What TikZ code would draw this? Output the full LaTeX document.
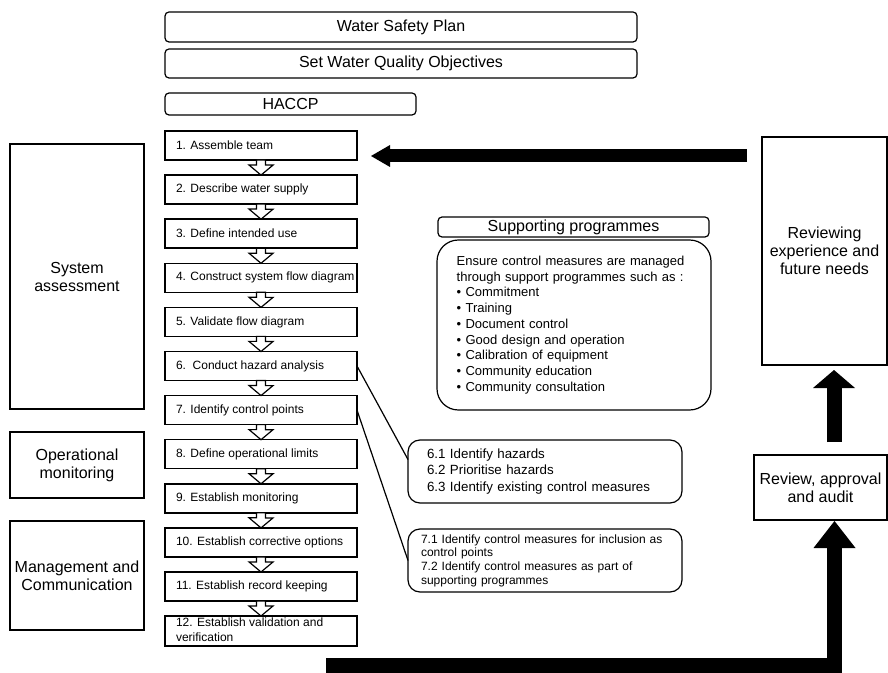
\documentclass[tikz,border=0pt]{standalone}
\usepackage{fontspec}
\setmainfont{Liberation Sans}
\usetikzlibrary{arrows.meta,calc}
\newcommand{\stx}[1]{\makebox[127.5pt][l]{#1}}
\begin{document}
\begin{tikzpicture}[x=0.75pt,y=-0.75pt,
  every node/.style={inner sep=0pt, outer sep=0pt},
  ttl/.style={draw, line width=0.9pt, rounded corners=3pt, font=\fontsize{12pt}{14pt}\selectfont},
  stepbox/.style={draw, line width=1.1pt, minimum width=144pt, minimum height=21.75pt, inner xsep=8.25pt, font=\fontsize{9pt}{10.8pt}\selectfont},
  sidebox/.style={draw, line width=0.9pt, align=center, font=\fontsize{12pt}{13.5pt}\selectfont},
  roundbox/.style={draw, line width=0.9pt, align=left, minimum width=205.5pt},
  hollow/.style={draw, fill=white, line width=0.9pt, line join=miter},
  conn/.style={line width=0.9pt},
  fatarrow/.style={line width=#1, line join=miter},
]
\useasboundingbox (0,0) rectangle (888,673);

% headers
\node[ttl, minimum width=354pt, minimum height=22.5pt] (wsp) at (401,27) {Water Safety Plan};
\node[ttl, minimum width=354pt, minimum height=21.75pt] (swqo) at (401,63.5) {Set Water Quality Objectives};
\node[ttl, minimum width=188.25pt, minimum height=16.5pt] (haccp) at (290.5,104) {HACCP};

% steps
\node[stepbox] (s1) at (261,145.5) {\stx{1. Assemble team}};
\node[stepbox] (s2) at (261,189.6) {\stx{2. Describe water supply}};
\node[stepbox] (s3) at (261,233.7) {\stx{3. Define intended use}};
\node[stepbox] (s4) at (261,277.8) {\stx{4. Construct system flow diagram}};
\node[stepbox] (s5) at (261,321.9) {\stx{5. Validate flow diagram}};
\node[stepbox] (s6) at (261,366.0) {\stx{6.\ \ Conduct hazard analysis}};
\node[stepbox] (s7) at (261,410.1) {\stx{7. Identify control points}};
\node[stepbox] (s8) at (261,454.2) {\stx{8. Define operational limits}};
\node[stepbox] (s9) at (261,498.3) {\stx{9. Establish monitoring}};
\node[stepbox] (s10) at (261,542.4) {\stx{10. Establish corrective options}};
\node[stepbox] (s11) at (261,586.5) {\stx{11. Establish record keeping}};
\node[stepbox, minimum height=22.5pt] (s12) at (261,631) {\stx{\begin{tabular}{@{}l@{}}12. Establish validation and\\verification\end{tabular}}};

\foreach \a/\b in {s1/s2,s2/s3,s3/s4,s4/s5,s5/s6,s6/s7,s7/s8,s8/s9,s9/s10,s10/s11,s11/s12}{
  \filldraw[hollow] ($(\a.south)+(-4.5,0)$) -- ++(0,5) -- ++(-7.5,0) -- (\b.north) -- ++(12,-10) -- ++(-7.5,0) -- ($(\a.south)+(4.5,0)$) -- cycle;
}

% left column
\node[sidebox, minimum width=100.5pt, minimum height=198.75pt] (sa) at (77,276.5) {System\\assessment};
\node[sidebox, minimum width=100.5pt, minimum height=49.5pt] (om) at (77,465) {Operational\\monitoring};
\node[sidebox, minimum width=100.5pt, minimum height=81.75pt] (mc) at (77,575.5) {Management and\\Communication};

% supporting programmes
\node[ttl, minimum width=203.25pt, minimum height=15pt] (sph) at (573.5,227) {Supporting programmes};
\node[roundbox, rounded corners=16pt, minimum height=127.5pt, text width=176pt, font=\fontsize{9.75pt}{11.8pt}\selectfont] (spb) at (574,325)
 {Ensure control measures are managed\\through support programmes such as :\\• Commitment\\• Training\\• Document control\\• Good design and operation\\• Calibration of equipment\\• Community education\\• Community consultation};

% sub-step boxes
\node[roundbox, rounded corners=9pt, minimum height=47.25pt, text width=177pt, font=\fontsize{10pt}{12.4pt}\selectfont] (b6) at (545,471.5)
 {6.1 Identify hazards\\6.2 Prioritise hazards\\6.3 Identify existing control measures};
\node[roundbox, rounded corners=9pt, minimum height=47.25pt, text width=186pt, font=\fontsize{9pt}{10.3pt}\selectfont] (b7) at (545,560.5)
 {7.1 Identify control measures for inclusion as\\control points\\7.2 Identify control measures as part of\\supporting programmes};

\draw[conn] (s6.east) -- (b6.175);
\draw[conn] (s7.east) -- (b7.west);

% right column
\node[sidebox, minimum width=93.75pt, minimum height=171pt] (rev1) at (824.5,251) {Reviewing\\experience and\\future needs};
\node[sidebox, minimum width=99.75pt, minimum height=48.75pt] (rev2) at (820.5,487.5) {Review, approval\\and audit};

% thick arrows
\coordinate (la) at (747,156);
\coordinate (lt) at (371,156);
\draw[fatarrow=9.75pt, -{Triangle[length=14.25pt,width=16.5pt,line width=0pt]}] (la) -- (lt);

\coordinate (ua) at (834,442);
\coordinate (ut) at (834,370);
\draw[fatarrow=11.25pt, -{Triangle[length=13.5pt,width=31.5pt,line width=0pt]}] (ua) -- (ut);

\coordinate (ba) at (326,665.5);
\coordinate (bc) at (834.5,665.5);
\coordinate (bt) at (834.5,521);
\draw[fatarrow=11.25pt, -{Triangle[length=20.25pt,width=31.5pt,line width=0pt]}] (ba) -- (bc) -- (bt);
\end{tikzpicture}
\end{document}
